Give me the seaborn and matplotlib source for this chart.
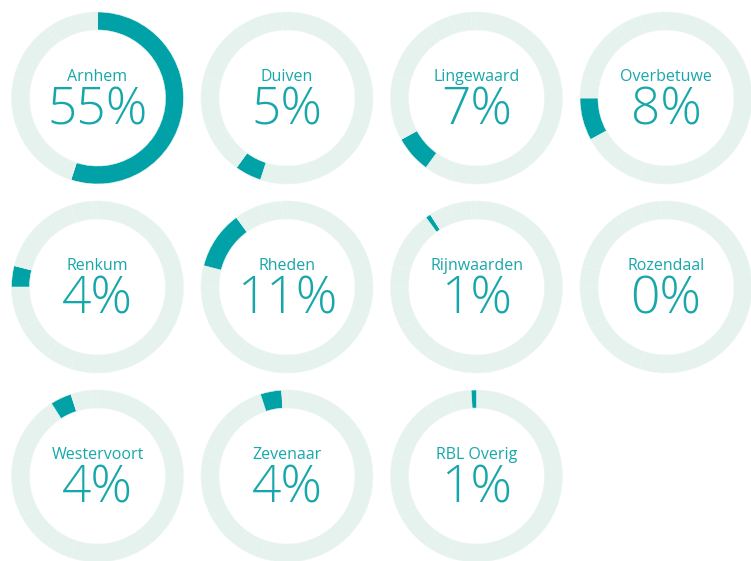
import numpy as np
import pandas as pd
import seaborn as sns
import matplotlib.pyplot as plt

# share per gemeente (%)
gemeenten = ["Arnhem", "Duiven", "Lingewaard", "Overbetuwe", "Renkum", "Rheden",
             "Rijnwaarden", "Rozendaal", "Westervoort", "Zevenaar", "RBL Overig"]
aandeel = [55, 5, 7, 8, 4, 11, 1, 0, 4, 4, 1]

df = pd.DataFrame({"gemeente": gemeenten, "aandeel": aandeel})

teal = "#00a2a7"
light = "#e6f2ee"
text_teal = "#17a7ab"

sns.set_theme(style="white")
plt.rcParams["font.family"] = ["Open Sans", "DejaVu Sans"]

W, H = 751, 561
fig = plt.figure(figsize=(W / 100, H / 100), dpi=100)
ax = fig.add_axes([0, 0, 1, 1])

# grid layout in pixels
x0, dx = 97.5, 189.5
y0, dy = 98, 189
r_out, ring = 86, 18

for i, row in df.iterrows():
    r, c = divmod(i, 4)
    cx = x0 + c * dx
    cy = H - (y0 + r * dy)
    colors = [teal if j == i else light for j in range(len(df))]
    ax.pie(df["aandeel"], colors=colors, startangle=90, counterclock=False,
           radius=r_out, center=(cx, cy), frame=True,
           wedgeprops=dict(width=ring, edgecolor="#edf6f3", linewidth=0.4))
    ax.text(cx, cy + 21, row["gemeente"], ha="center", va="center",
            fontsize=11.5, color=text_teal)
    ax.text(cx, cy - 13, "{}%".format(row["aandeel"]), ha="center", va="center",
            fontsize=37, color=text_teal, fontweight="light")

ax.set_xlim(0, W)
ax.set_ylim(0, H)
ax.set_aspect("equal")
ax.axis("off")

plt.savefig("out.png", dpi=100, facecolor="white")
